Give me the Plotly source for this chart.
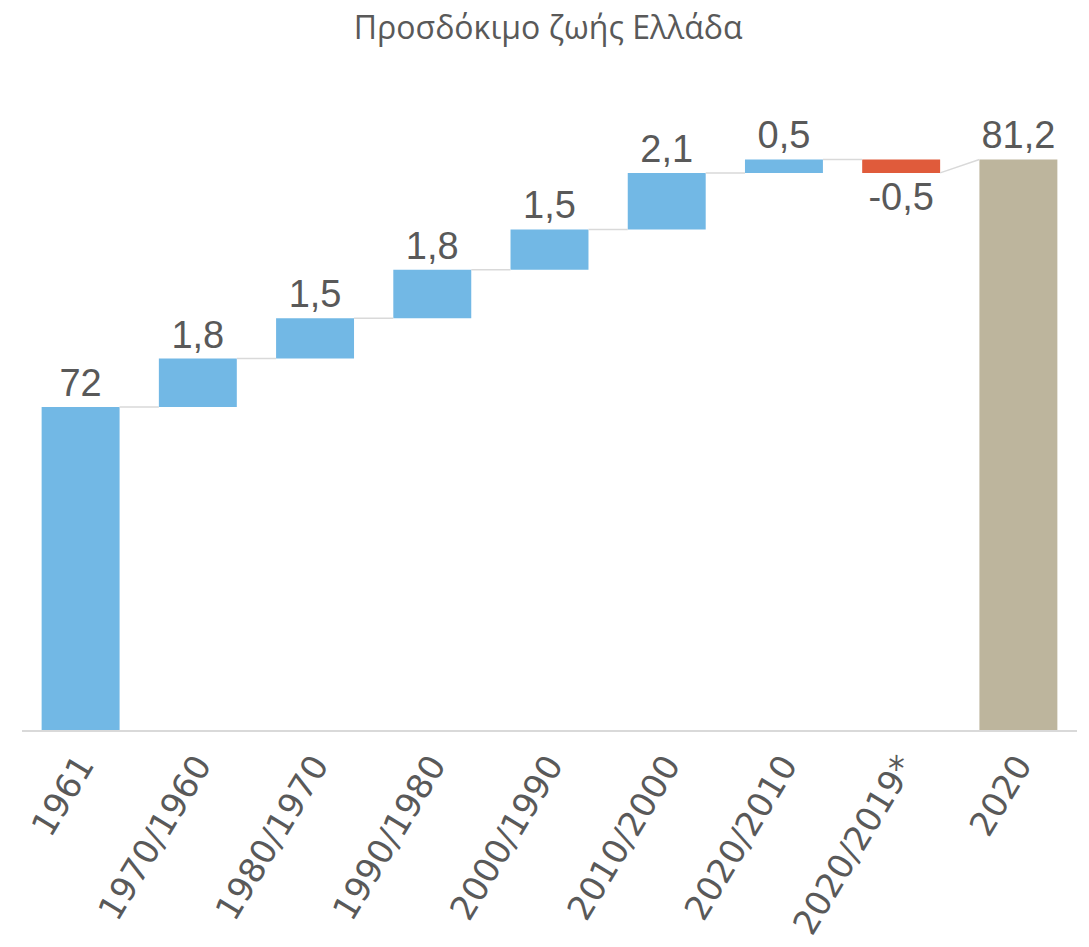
import plotly.graph_objects as go

categories = ["1961", "1970/1960", "1980/1970", "1990/1980", "2000/1990",
              "2010/2000", "2020/2010", "2020/2019*", "2020"]
values = [72, 1.8, 1.5, 1.8, 1.5, 2.1, 0.5, -0.5, 81.2]
measures = ["absolute", "relative", "relative", "relative", "relative",
            "relative", "relative", "relative", "total"]
labels = ["72", "1,8", "1,5", "1,8", "1,5", "2,1", "0,5", "-0,5", "81,2"]

BLUE = "#72B8E5"
RED = "#E05B3B"
TAN = "#BDB59D"
GRAY = "#D9D9D9"
TXT = "#595959"

# compute bases / ends
bases, heights, colors = [], [], []
running = 0.0
for v, m in zip(values, measures):
    if m == "absolute":
        bases.append(0)
        heights.append(v)
        running = v
        colors.append(BLUE)
    elif m == "total":
        bases.append(0)
        heights.append(v)
        colors.append(TAN)
    else:
        bases.append(running)
        heights.append(v)
        running += v
        colors.append(BLUE if v >= 0 else RED)

xs = list(range(len(categories)))
half = 0.3325

fig = go.Figure()

# connectors
for i in range(len(values) - 1):
    end_i = bases[i] + heights[i]
    if measures[i + 1] == "total":
        start_next = heights[i + 1]
    else:
        start_next = bases[i + 1]
    fig.add_trace(go.Scatter(
        x=[xs[i] + half, xs[i + 1] - half], y=[end_i, start_next],
        mode="lines", line=dict(color=GRAY, width=1.5),
        hoverinfo="skip", showlegend=False))

fig.add_trace(go.Bar(
    x=xs, y=heights, base=bases,
    marker=dict(color=colors, line=dict(width=0)),
    width=2 * half,
    text=labels, textposition="outside", constraintext="none",
    textfont=dict(family="Liberation Sans, Arial, sans-serif", size=38, color=TXT),
    cliponaxis=False, showlegend=False))

fig.update_layout(
    width=1089, height=947,
    margin=dict(l=14, r=20, t=103, b=225, autoexpand=False),
    paper_bgcolor="white", plot_bgcolor="white",
    title=dict(text="Προσδόκιμο ζωής Ελλάδα", x=0.496, xanchor="center",
               y=0.979, yanchor="middle",
               font=dict(family="Open Sans, sans-serif", size=32, color=TXT)),
    xaxis=dict(tickmode="array", tickvals=xs, ticktext=categories,
               range=[-0.5, len(categories) - 0.5], automargin=False,
               tickangle=-59, showgrid=False, zeroline=False,
               showline=True, linecolor=GRAY, linewidth=2,
               ticks="", ticklen=0,
               tickfont=dict(family="DejaVu Sans, sans-serif", size=34, color=TXT)),
    yaxis=dict(range=[60, 83], visible=False, showgrid=False, zeroline=False,
               automargin=False),
)

fig.write_html("out.html")
